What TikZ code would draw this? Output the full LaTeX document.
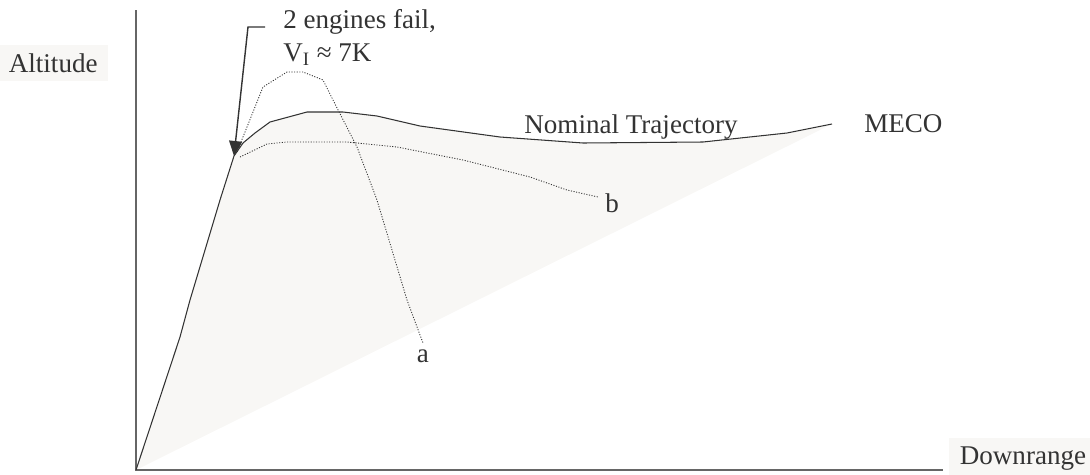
\documentclass[tikz,border=0pt]{standalone}
\usepackage{fontspec}
\setmainfont{Liberation Serif}
\usepackage{tikz}
\usetikzlibrary{arrows.meta,positioning}
\definecolor{envfill}{RGB}{248,247,245}
\definecolor{ink}{RGB}{51,51,51}

\tikzset{
  lbl/.style={font=\fontsize{15.4}{19}\selectfont, text=ink, inner sep=0pt},
  boxlbl/.style={lbl, fill=envfill, inner xsep=6pt, inner ysep=5pt},
  traj/.style={ink, line width=0.6pt, line join=round},
  alt/.style={ink, line width=0.5pt, dash pattern=on 0.6pt off 0.9pt},
}

\begin{document}
\begin{tikzpicture}[x=0.02cm, y=-0.02cm]
    \useasboundingbox (0,0) rectangle (1090,474);
    % axes
    \coordinate (origin) at (136,470);
    \coordinate (ytop) at (136,10);
    \coordinate (xend) at (943,470);
    % points on the nominal curve
    \coordinate (fail) at (234,156);
    \coordinate (meco) at (832,124);
    % shaded envelope
    \fill[envfill] (origin) -- (180,337) -- (190,300) -- (220,200)
      -- (fail) -- (243,143) -- (255,133) -- (270,122) -- (307,112)
      -- (343,112) -- (377,116) -- (420,126) -- (500,137) -- (583,143)
      -- (703,142) -- (787,133) -- (meco) -- cycle;
    \draw[gray!80!black, line width=0.6pt] (ytop) -- (origin) -- (xend);
    % nominal trajectory
    \draw[traj] (origin) -- (180,337) -- (190,300) -- (220,200)
      -- (fail) -- (243,143) -- (255,133) -- (270,122) -- (307,112)
      -- (343,112) -- (377,116) -- (420,126) -- (500,137) -- (583,143)
      -- (703,142) -- (787,133) -- (meco);
    % abort cases
    \coordinate (aend) at (423,343);
    \coordinate (bend) at (598,197);
    \draw[alt] (237,152) -- (247,127) -- (263,87) -- (287,72) -- (303,72)
      -- (323,80) -- (333,100) -- (357,147) -- (377,200) -- (407,300)
      -- (aend);
    \draw[alt] (240,157) -- (267,144) -- (287,142) -- (347,142)
      -- (397,147) -- (463,160) -- (530,177) -- (567,190) -- (bend);
    % labels
    \node[boxlbl, anchor=west] (altitude) at (-2,63) {Altitude};
    \node[boxlbl, anchor=east] (downrange) at (1097,459) {Downrange};
    \node[lbl] (nominal) at (631,127) {Nominal Trajectory};
    \node[lbl, anchor=west] (mecolbl) at (864,124) {MECO};
    \node[lbl, anchor=north] (alabel) at (aend) [yshift=-0.12cm] {a};
    \node[lbl, anchor=west] (blabel) at (bend) [xshift=0.14cm, yshift=-0.12cm] {b};
    \node[lbl, anchor=north west, align=left] (engines) at (283,9)
      {2 engines fail,\\V\textsubscript{I} ≈ 7K};
    \coordinate (knee) at (248,27);
    \draw[ink, line width=0.8pt, -{Triangle[length=0.3cm,width=0.26cm]}]
      (265,27) -- (knee) -- (fail);
\end{tikzpicture}
\end{document}
